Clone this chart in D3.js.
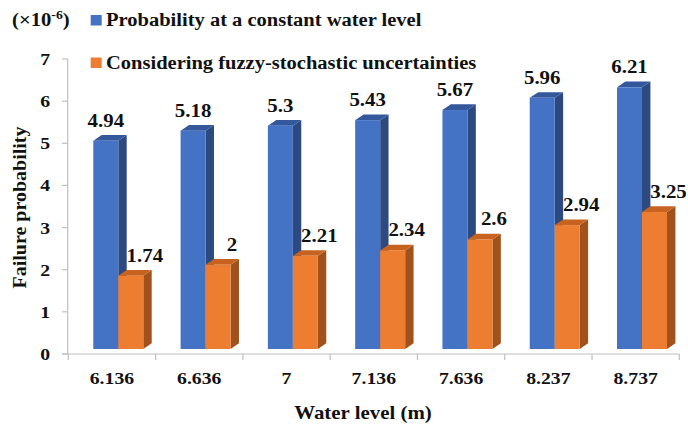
<!DOCTYPE html>
<html>
<head>
<meta charset="utf-8">
<script src="https://cdn.jsdelivr.net/npm/d3@7"></script>
<style>
  html, body { margin: 0; padding: 0; background: #fff; }
  svg { display: block; }
  text { font-family: "Liberation Serif", "Times New Roman", serif; font-weight: bold; fill: #111; }
</style>
</head>
<body>
<svg id="chart" width="688" height="425"></svg>
<script>
// Water levels (categories) and failure probabilities (×10^-6)
const levels = ["6.136", "6.636", "7", "7.136", "7.636", "8.237", "8.737"];
const constantLevel = [4.94, 5.18, 5.3, 5.43, 5.67, 5.96, 6.21];
const fuzzyStochastic = [1.74, 2, 2.21, 2.34, 2.6, 2.94, 3.25];
const yTicks = [0, 1, 2, 3, 4, 5, 6, 7];
const seriesNames = ["Probability at a constant water level", "Considering fuzzy-stochastic uncertainties"];

const svg = d3.select("#chart");
const SX = 1.16;          // horizontal glyph stretch
const axisColor = "#bfbfbf";

const x = d3.scaleBand().domain(levels).range([68.3, 679.3]).paddingInner(0).paddingOuter(0);
const y = d3.scaleLinear().domain([0, 7]).range([354, 59]);

// 3D extrusion of the columns
const depthX = 8.4, depthY = 5.7, lift = 5;

function stretchedText(g, px, py, str, size, anchor, sx = SX) {
  return g.append("text")
    .attr("transform", `translate(${px},${py}) scale(${sx},1)`)
    .attr("text-anchor", anchor)
    .attr("font-size", size)
    .text(str);
}

// y axis
const yAxis = svg.append("g");
yAxis.append("line").attr("x1", 67.7).attr("x2", 67.7).attr("y1", y(7)).attr("y2", y(0))
  .attr("stroke", axisColor).attr("stroke-width", 1.2);
yTicks.forEach(t => {
  yAxis.append("line").attr("x1", 62).attr("x2", 67.7).attr("y1", y(t)).attr("y2", y(t))
    .attr("stroke", axisColor).attr("stroke-width", 1.2);
  stretchedText(yAxis, 50, y(t) + 6, String(t), 17, "end");
});

// x axis
const xAxis = svg.append("g");
xAxis.append("line").attr("x1", 62).attr("x2", x.range()[1]).attr("y1", y(0)).attr("y2", y(0))
  .attr("stroke", axisColor).attr("stroke-width", 1.2);
const bounds = levels.map(l => x(l)).concat([x.range()[1]]);
bounds.forEach(b => {
  xAxis.append("line").attr("x1", b).attr("x2", b).attr("y1", y(0)).attr("y2", y(0) + 6)
    .attr("stroke", axisColor).attr("stroke-width", 1.2);
});
levels.forEach(l => stretchedText(xAxis, x(l) + x.bandwidth() / 2, 384, l, 17, "middle"));

// columns
const bw = x.bandwidth();
const colW = bw * 0.2864;
const series = [
  { values: constantLevel, offset: bw * 0.2864, front: "#4472c4", top: "#34589c", side: "#2c4a80", labelShift: 0 },
  { values: fuzzyStochastic, offset: bw * 0.5728, front: "#ed7d31", top: "#c8631f", side: "#a1521c", labelShift: 14 }
];

const bars = svg.append("g");
levels.forEach((lvl, i) => {
  series.forEach(s => {
    const v = s.values[i];
    const x0 = x(lvl) + s.offset, x1 = x0 + colW;
    const yt = y(v) - lift, yb = y(0) - lift;
    const g = bars.append("g");
    // side face
    g.append("path")
      .attr("d", `M${x1},${yt}L${x1 + depthX},${yt - depthY}L${x1 + depthX},${yb - depthY}L${x1},${yb}Z`)
      .attr("fill", s.side);
    // top face
    g.append("path")
      .attr("d", `M${x0},${yt}L${x1},${yt}L${x1 + depthX},${yt - depthY}L${x0 + depthX},${yt - depthY}Z`)
      .attr("fill", s.top);
    // front face
    g.append("rect").attr("x", x0).attr("y", yt).attr("width", colW).attr("height", yb - yt)
      .attr("fill", s.front);
  });
});

// value labels
const labels = svg.append("g");
levels.forEach((lvl, i) => {
  series.forEach(s => {
    const v = s.values[i];
    const cx = x(lvl) + s.offset + colW / 2 + s.labelShift;
    stretchedText(labels, cx, y(v) - lift - 14, String(v), 18, "middle");
  });
});

// axis titles
stretchedText(svg, 363, 419, "Water level (m)", 18.5, "middle", 1.13);
svg.append("text")
  .attr("transform", "translate(26,207.5) rotate(-90) scale(1.08,1)")
  .attr("text-anchor", "middle")
  .attr("font-size", 18.5)
  .text("Failure probability");

// unit label
const unit = svg.append("text")
  .attr("transform", "translate(12,26) scale(1.15,1)")
  .attr("font-size", 18);
unit.append("tspan").text("(×10");
unit.append("tspan").attr("font-size", 12).attr("dy", -7).text("-6");
unit.append("tspan").attr("dy", 7).text(")");

// legend
const legend = svg.append("g");
const legendRows = [{ y: 26, color: "#4472c4" }, { y: 68.5, color: "#ed7d31" }];
legendRows.forEach((r, i) => {
  legend.append("rect").attr("x", 90.7).attr("y", r.y - 11).attr("width", 11).attr("height", 10.5)
    .attr("fill", r.color);
  stretchedText(legend, 106, r.y, seriesNames[i], 19, "start", 1.08);
});
</script>
</body>
</html>
